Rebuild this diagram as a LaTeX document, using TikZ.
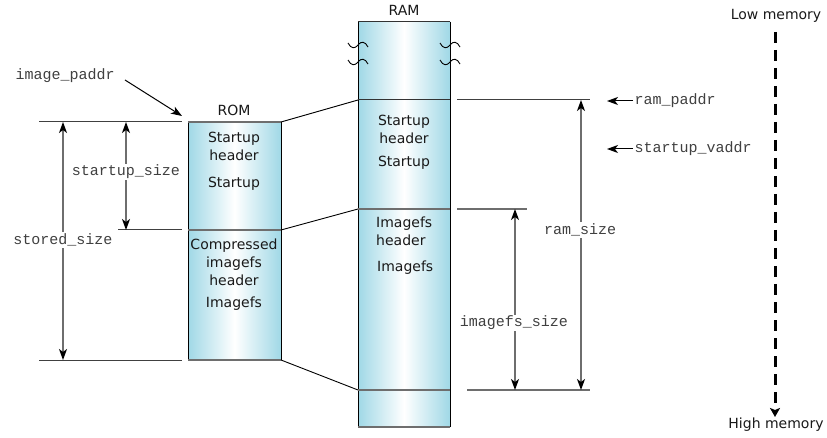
\documentclass[tikz,border=0pt]{standalone}
\usepackage{fontspec}
\setmainfont{DejaVu Sans}
\newfontfamily\monof{Liberation Mono}
\usetikzlibrary{arrows.meta}
\definecolor{edgeblue}{RGB}{160,216,230}
\definecolor{lgray}{RGB}{110,110,110}
\begin{document}
\begin{tikzpicture}[x=1pt,y=-1pt,
  sanslbl/.style={font=\fontsize{14}{18}\selectfont, align=center, inner sep=0pt, text=black!90},
  monolbl/.style={font=\monof\fontsize{15}{17}\selectfont, inner sep=1.5pt, text=black!75},
  tip/.style={-{Stealth[length=11pt,width=8pt,inset=3pt,color=black]}},
  dim/.style={{Stealth[length=11pt,width=8pt,inset=3pt,color=black]}-{Stealth[length=11pt,width=8pt,inset=3pt,color=black]}, draw=lgray, line width=1.2pt},
  lead/.style={draw=black!75, line width=1pt},
  membox/.style={left color=edgeblue, right color=edgeblue, middle color=white},
  squig/.style={draw=black, line width=0.9pt}]
\useasboundingbox (0,0) rectangle (827,438);

% coordinates
\coordinate (romTL) at (188,122); \coordinate (romTR) at (281,122);
\coordinate (romML) at (188,230); \coordinate (romMR) at (281,230);
\coordinate (romBL) at (188,360); \coordinate (romBR) at (281,360);
\coordinate (ramTL) at (358,22);  \coordinate (ramTR) at (450,22);
\coordinate (ramAL) at (358,100); \coordinate (ramAR) at (450,100);
\coordinate (ramBL) at (358,209); \coordinate (ramBR) at (450,209);
\coordinate (ramCL) at (358,390); \coordinate (ramCR) at (450,390);
\coordinate (ramDL) at (358,427); \coordinate (ramDR) at (450,427);

% ROM box
\shade[membox] (romTL) rectangle (romBR);
\draw[line width=1pt] (romTL) -- (romBL) (romTR) -- (romBR);
\draw[draw=lgray, line width=1.2pt] (romTL) -- (romTR) (romML) -- (romMR) (romBL) -- (romBR);

% RAM box
\shade[membox] (ramTL) rectangle (ramDR);
\draw[line width=1pt] (ramTL) -- (ramDL) (ramTR) -- (ramDR);
\draw[draw=black!80, line width=1pt] (ramTL) -- (ramTR) (ramAL) -- (ramAR);
\draw[draw=lgray, line width=1.2pt] (ramBL) -- (ramBR) (ramCL) -- (ramCR) (ramDL) -- (ramDR);

% squiggles
\foreach \yy in {45,62} {
  \draw[squig] (348,\yy-2) .. controls (351,\yy+4) and (355,\yy+4) .. (358,\yy) .. controls (361,\yy-4) and (365,\yy-4) .. (368,\yy+2);
  \draw[squig] (440,\yy-2) .. controls (443,\yy+4) and (447,\yy+4) .. (450,\yy) .. controls (453,\yy-4) and (457,\yy-4) .. (460,\yy+2);
}

% box titles
\node[sanslbl] (romt) at (234,110) {ROM};
\node[sanslbl] (ramt) at (404,10) {RAM};

% ROM contents
\node[sanslbl] (r1) at (234,146) {Startup\\header};
\node[sanslbl] (r2) at (234,184) {Startup};
\node[sanslbl] (r3) at (234,262) {Compressed\\imagefs\\header};
\node[sanslbl] (r4) at (234,304) {Imagefs};

% RAM contents
\node[sanslbl] (a1) at (404,129) {Startup\\header};
\node[sanslbl] (a2) at (404,163) {Startup};
\node[sanslbl, anchor=west, align=left] (a3) at (376,231) {Imagefs\\header};
\node[sanslbl, anchor=west] (a4) at (377,268) {Imagefs};

% connectors ROM -> RAM
\draw[line width=0.9pt] (romTR) -- (ramAL);
\draw[line width=0.9pt] (romMR) -- (ramBL);
\draw[line width=0.9pt] (romBR) -- (ramCL);

% left leaders
\coordinate (l1a) at (39,122); \coordinate (l1b) at (182,122);
\coordinate (l2a) at (118,230); \coordinate (l2b) at (182,230);
\coordinate (l3a) at (39,360); \coordinate (l3b) at (182,360);
\draw[lead] (l1a) -- (l1b);
\draw[lead] (l2a) -- (l2b);
\draw[lead] (l3a) -- (l3b);

\coordinate (s1) at (63,122); \coordinate (s2) at (63,360);
\coordinate (t1) at (126,122); \coordinate (t2) at (126,230);
\draw[dim] (s1) -- (s2);
\draw[dim] (t1) -- (t2);
\node[monolbl, fill=white] (storedsz) at (63,240) {stored\_size};
\node[monolbl, fill=white] (startsz) at (126,172) {startup\_size};

% image_paddr
\node[monolbl, anchor=west] (ipaddr) at (14,76) {image\_paddr};
\coordinate (ipend) at (182,116);
\draw[tip, line width=1pt] (125,80) -- (ipend);

% right leaders
\coordinate (r1a) at (457,100); \coordinate (r1b) at (590,100);
\coordinate (r2a) at (457,209); \coordinate (r2b) at (527,209);
\coordinate (r3a) at (467,390); \coordinate (r3b) at (590,390);
\draw[lead] (r1a) -- (r1b);
\draw[draw=lgray, line width=1.2pt] (r2a) -- (r2b);
\draw[draw=lgray, line width=1.2pt] (r3a) -- (r3b);

\coordinate (u1) at (581,100); \coordinate (u2) at (581,390);
\coordinate (v1) at (515,209); \coordinate (v2) at (515,390);
\draw[dim] (u1) -- (u2);
\draw[dim] (v1) -- (v2);
\node[monolbl, fill=white] (ramsz) at (580,230) {ram\_size};
\node[monolbl, fill=white] (imgsz) at (514,323) {imagefs\_size};

% ram_paddr / startup_vaddr
\node[monolbl, anchor=west] (rp) at (633,101) {ram\_paddr};
\node[monolbl, anchor=west] (sv) at (633,149) {startup\_vaddr};
\coordinate (rptip) at (607,101);
\coordinate (svtip) at (607,149);
\draw[tip, line width=1pt] (rp.west) -- (rptip);
\draw[tip, line width=1pt] (sv.west) -- (svtip);

% memory direction
\node[sanslbl] (low) at (776,16) {Low memory};
\node[sanslbl] (high) at (776,425) {High memory};
\coordinate (lowpt) at (775,32);
\coordinate (highpt) at (775,417);
\draw[line width=3pt, dash pattern=on 11pt off 7pt, -{Stealth[length=9pt,width=10pt,inset=2pt]}] (lowpt) -- (highpt);
\end{tikzpicture}
\end{document}
